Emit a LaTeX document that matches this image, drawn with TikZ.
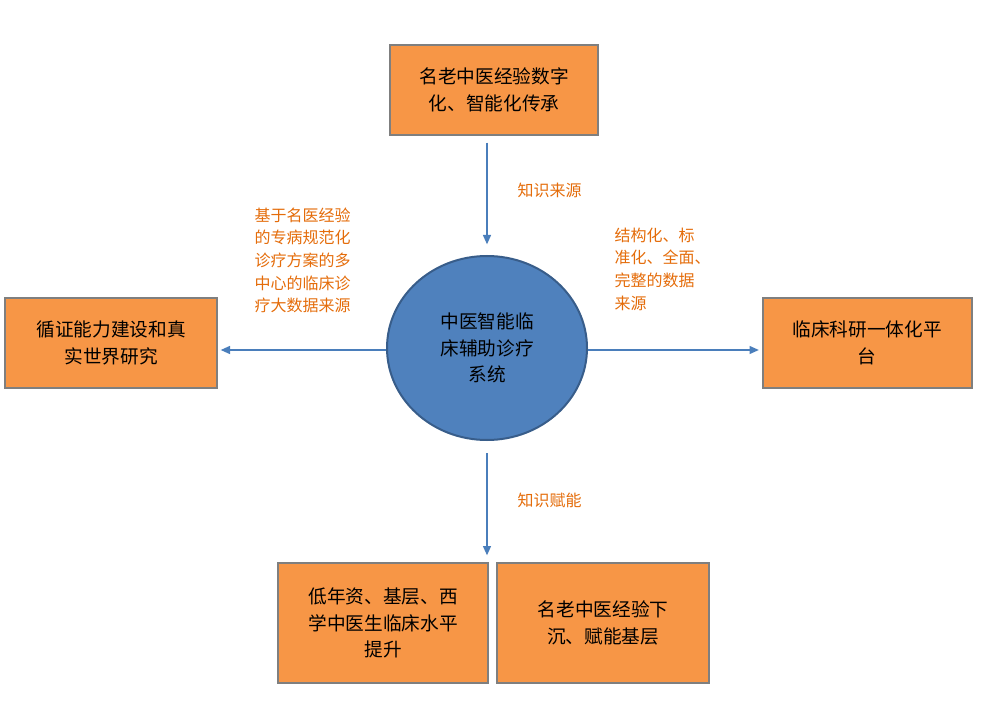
\documentclass[tikz,border=0pt]{standalone}
\usepackage{fontspec}
\newfontfamily\cjk{Noto Sans CJK SC}
\usetikzlibrary{arrows.meta,shapes.geometric}
\definecolor{boxor}{HTML}{F79646}
\definecolor{boxbd}{HTML}{7F7F7F}
\definecolor{cblue}{HTML}{4F81BD}
\definecolor{cbd}{HTML}{385D8A}
\definecolor{lbl}{HTML}{E46C0A}
\definecolor{arr}{HTML}{4A7EBB}
\tikzset{
 obox/.style={draw=boxbd,line width=1.5pt,fill=boxor,inner sep=0pt,align=center,font=\cjk\fontsize{14}{20}\selectfont},
 lab/.style={text=lbl,align=left,font=\cjk\fontsize{12}{17}\selectfont},
 arrline/.style={draw=arr,line width=1pt,-{Triangle[length=7pt,width=6pt]}}
}
\begin{document}
\begin{tikzpicture}[x=0.75pt,y=-0.75pt]
\useasboundingbox (0,0) rectangle (981,720);
\node[obox,minimum width=208*0.75pt,minimum height=90*0.75pt] (top) at (494,90) {名老中医经验数字\\化、智能化传承};
\node[ellipse,draw=cbd,line width=1.5pt,fill=cblue,minimum width=200*0.75pt,minimum height=184*0.75pt,align=center,font=\cjk\fontsize{14}{20}\selectfont] (c) at (487,348) {中医智能临\\床辅助诊疗\\系统};
\node[obox,minimum width=212*0.75pt,minimum height=90*0.75pt] (l) at (111,343) {循证能力建设和真\\实世界研究};
\node[obox,minimum width=209*0.75pt,minimum height=90*0.75pt] (r) at (867,343) {临床科研一体化平\\台};
\node[obox,minimum width=210*0.75pt,minimum height=120*0.75pt] (bl) at (383,623) {低年资、基层、西\\学中医生临床水平\\提升};
\node[obox,minimum width=212*0.75pt,minimum height=120*0.75pt] (br) at (603,623) {名老中医经验下\\沉、赋能基层};
\draw[arrline,shorten <=5pt,shorten >=8pt] (top.south -| c.north) -- (c.north);
\draw[arrline,shorten <=9pt,shorten >=5pt] (c.south) -- (c.south |- bl.north);
\draw[arrline,shorten >=2pt] (c.west |- 0,350) -- (l.east |- 0,350);
\draw[arrline,shorten >=2pt] (c.east |- 0,350) -- (r.west |- 0,350);
\node[lab,anchor=west] (k1) at (513,190) {知识来源};
\node[lab,anchor=west] (k2) at (513,500) {知识赋能};
\node[lab,anchor=north west] (ll) at (250,203) {基于名医经验\\的专病规范化\\诊疗方案的多\\中心的临床诊\\疗大数据来源};
\node[lab,anchor=north west] (rl) at (610,223) {结构化、标\\准化、全面、\\完整的数据\\来源};
\end{tikzpicture}
\end{document}
